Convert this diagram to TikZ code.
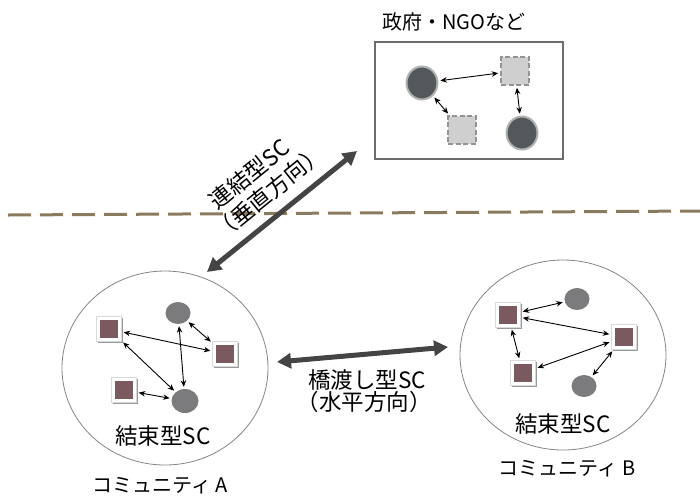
\documentclass[tikz,border=0pt]{standalone}
\usepackage{fontspec}
\setmainfont{Noto Sans CJK JP}
\usetikzlibrary{arrows.meta,shapes.geometric,shadows}
\definecolor{sqbrown}{HTML}{7A5A5E}
\definecolor{commgray}{HTML}{7B7B7D}
\definecolor{darkcirc}{HTML}{53585A}
\definecolor{lightsq}{HTML}{CFCFCF}
\definecolor{dashbrown}{HTML}{8B7B5E}
\definecolor{bigarrow}{HTML}{444444}
\definecolor{commline}{HTML}{8A8282}
\tikzset{
  lbl/.style={font=\fontsize{22.5}{24}\selectfont, align=center, inner sep=0pt},
  smalllbl/.style={font=\fontsize{20}{24}\selectfont, align=center, inner sep=0pt},
  sqnode/.style={rectangle, fill=white, draw=gray!30, line width=0.4pt, minimum size=25pt, inner sep=0pt,
    drop shadow={shadow xshift=1pt, shadow yshift=-1.3pt, opacity=0.4, fill=black},
    path picture={\fill[sqbrown] ([shift={(-9pt,-9pt)}]path picture bounding box.center) rectangle ([shift={(9pt,9pt)}]path picture bounding box.center);}},
  cnode/.style={ellipse, fill=commgray, draw=none, minimum width=25pt, minimum height=22pt, inner sep=0pt},
  govsq/.style={rectangle, fill=lightsq, draw=gray!85, dash pattern=on 5pt off 2.5pt, line width=1.6pt, minimum size=28pt, inner sep=0pt},
  govc/.style={ellipse, fill=darkcirc, draw=gray!60, line width=2pt, minimum width=31pt, minimum height=33pt, inner sep=0pt},
  link/.style={{Stealth[length=6.5pt,width=5.5pt]}-{Stealth[length=6.5pt,width=5.5pt]}, line width=0.9pt, black, shorten >=2pt, shorten <=2pt},
  bigarr/.style={{Triangle[length=14pt,width=15pt]}-{Triangle[length=14pt,width=15pt]}, line width=5pt, bigarrow},
  community/.style={ellipse, draw=commline, line width=0.8pt, inner sep=0pt},
}
\begin{document}
\begin{tikzpicture}[x=1pt,y=-1pt]
\useasboundingbox (0,0) rectangle (700,496);

% dashed boundary
\coordinate (dl) at (8,215);
\coordinate (dr) at (700,211);
\draw[dashbrown, line width=3pt, dash pattern=on 23pt off 9pt] (dl) -- (dr);

% government box
\node[draw=gray!85!black, line width=2pt, minimum width=188pt, minimum height=117pt, inner sep=0pt] (gov) at (469,100.5) {};
\node[smalllbl, anchor=west] (govtitle) at (382,22) {政府・NGOなど};
\node[govc] (g1) at (422,83) {};
\node[govsq] (g2) at (515,71) {};
\node[govsq] (g3) at (462,130) {};
\node[govc] (g4) at (522,133) {};
\draw[link] (g1) -- (g2);
\draw[link] (g1) -- (g3);
\draw[link] (g2) -- (g4);

% community A
\node[community, minimum width=206pt, minimum height=194pt] (ca) at (165,368) {};
\node[sqnode] (a1) at (109,329) {};
\node[cnode] (a2) at (178,313) {};
\node[sqnode] (a3) at (225,354) {};
\node[sqnode] (a4) at (124,390) {};
\node[cnode, minimum width=27pt, minimum height=24pt] (a5) at (185,401) {};
\draw[link] (a1) -- (a3);
\draw[link] (a1) -- (a5);
\draw[link] (a2) -- (a5);
\draw[link] (a2) -- (a3);
\draw[link] (a4) -- (a5);
\node[lbl] (alabel) at (163,436) {結束型SC};
\node[smalllbl] (aname) at (160,486) {コミュニティ A};

% community B
\node[community, minimum width=206pt, minimum height=190pt] (cb) at (563,355) {};
\node[sqnode] (b1) at (508,315) {};
\node[cnode] (b2) at (577,299) {};
\node[sqnode] (b3) at (624,337) {};
\node[sqnode] (b4) at (523,373) {};
\node[cnode] (b5) at (584,386) {};
\draw[link] (b1) -- (b2);
\draw[link] (b1) -- (b3);
\draw[link] (b1) -- (b4);
\draw[link] (b4) -- (b3);
\draw[link] (b3) -- (b5);
\node[lbl] (blabel) at (563,424) {結束型SC};
\node[smalllbl] (bname) at (567,469) {コミュニティ B};

% bridging arrow
\coordinate (hl) at (277,362);
\coordinate (hr) at (448,347);
\draw[bigarr] (hl) -- (hr);
\node[lbl] (hlabel1) at (367,380) {橋渡し型SC};
\node[lbl] (hlabel2) at (364,402) {（水平方向）};

% linking arrow
\coordinate (dA) at (207,272);
\coordinate (dG) at (357,151);
\draw[bigarr] (dA) -- (dG);
\node[lbl, rotate=39] (vlabel1) at (249.5,174) {連結型SC};
\node[lbl, rotate=39] (vlabel2) at (269,192.5) {（垂直方向）};
\end{tikzpicture}
\end{document}
